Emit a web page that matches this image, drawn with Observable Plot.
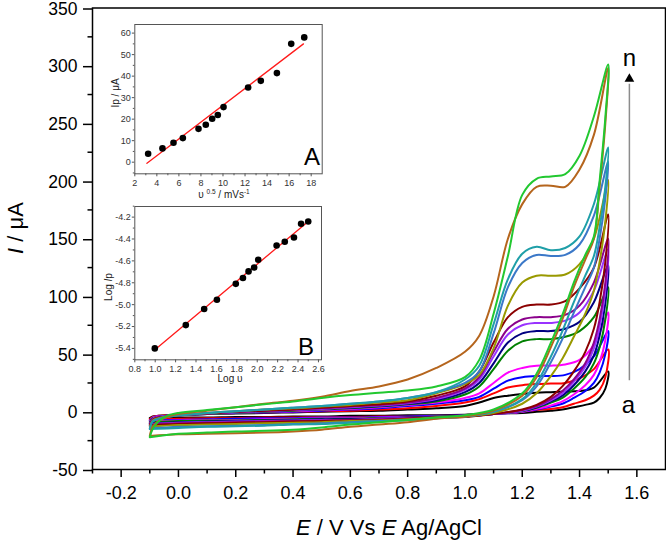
<!DOCTYPE html>
<html><head><meta charset="utf-8">
<script src="https://cdn.jsdelivr.net/npm/d3@7"></script>
<script src="https://cdn.jsdelivr.net/npm/@observablehq/plot@0.6"></script>
<style>
body{margin:0;background:#fff;}
#wrap{position:relative;width:666px;height:541px;font-family:"Liberation Sans",Arial,sans-serif;}
#wrap svg{position:absolute;}
</style></head><body><div id="wrap"></div>
<script>
// ---------- main voltammograms (E / V, I / µA) ----------
const curveIds = ["a","b","c","d","e","f","g","h","i","j","k","l","m","n"];
const curveColors = ["#000000","#ff0000","#0000ff","#ff00ff","#008000","#000080","#9933ff","#8b008b","#8b0000","#999900","#3b78c8","#1f9fa8","#b5651d","#22c830"];
const E_fwd = [-0.1,-0.09,-0.07,-0.04,0.0,0.1,0.2,0.3,0.4,0.5,0.6,0.7,0.8,0.9,1.0,1.05,1.1,1.15,1.2,1.25,1.3,1.35,1.4,1.45,1.5];
const E_rev = [1.49,1.47,1.45,1.42,1.38,1.34,1.3,1.25,1.2,1.1,1.0,0.9,0.8,0.7,0.6,0.5,0.4,0.3,0.2,0.1,0.0,-0.1];

const fwd_a = [-5.5,-4,-3.5,-3,-2.5,-2,-1.5,-1,-0.5,0,0.5,1,2,3,5,8,12,14,15.5,16.5,17,17.5,18,21,35];
const fwd_b = [-6.5,-4.5,-3.5,-3,-2.5,-1.5,-1,-0.5,0,0.5,1,2,3,5,8,11,16,21,23,24,24.5,25,29,37,54];
const fwd_c = [-7.5,-5,-4,-3.5,-3,-2,-1,-0.5,0,1,2,3,5,7,10,13,20,27,30,31,31,32,37,48,70];
const fwd_d = [-8,-5,-4,-3.5,-3,-2,-1,0,0.5,1.5,2.5,4,6,8,12,16,25,34,38,40,40,41,45,58,86];
const fwd_e = [-9,-5.5,-4.5,-3.5,-3,-2,-1,0,1,2,3,4.5,6.5,9,15,22,37,53,61,63,63,65,70,82,108];
const fwd_f = [-10,-6,-4.5,-3.5,-3,-1.5,-0.5,0.5,1.5,2.5,3.5,5,7,10,17,25,42,60,68,70,70,72,78,95,127];
const fwd_g = [-10.5,-6,-4.5,-3.5,-3,-1.5,-0.5,0.5,1.5,2.5,4,5.5,7.5,11,19,28,48,67,75,77,77,79,86,105,141];
const fwd_h = [-11,-6.5,-5,-4,-3,-1.5,0,1,2,3,4.5,6,8,12,20,30,52,72,80,82,82,84,92,112,150];
const fwd_i = [-12,-7,-5,-4,-3,-1.5,0,1,2,3.5,5,6.5,9,14,22,35,60,82,91,93,93,96,107,125,171];
const fwd_j = [-13,-7.5,-5.5,-4,-3,-1,0.5,2,3,4.5,6,8,10,16,24,32,55,92,112,118,118,119,128,150,201];
const fwd_k = [-14.5,-8,-6,-4.5,-3,-1,0.5,2,3.5,5,7,9,12,17,25,35,68,108,129,136,135,136,145,170,217];
const fwd_l = [-15,-8.5,-6,-4.5,-3,-1,0.5,2,3.5,5,7,9,12,17,28,40,76,115,137,143,140,142,152,180,229];
const fwd_m = [-21,-13,-8,-4.5,-2,1,4,7,9.5,13,18,22,28,38,52,66,100,150,180,195,196,195,210,240,298];
const fwd_n = [-22,-15,-8.5,-3.5,-1,1.5,4,6.5,9,12,14.5,16.5,18.5,22,30,45,85,135,188,202,204,206,222,256,301];

const rev_a = [20,12,8,6,4,2,1,0,-1,-1.5,-2.5,-3,-3,-3.5,-3.5,-4,-4,-4.5,-4.5,-5,-5,-5.5];
const rev_b = [30,19,14,10,7,4,2.5,1.5,0,-1.5,-3,-3.5,-4,-4,-4.5,-4.5,-5,-5,-5.5,-5.5,-6,-6.5];
const rev_c = [50,34,25,18,12,7,4.5,2,0,-2,-3,-3.5,-4,-4.5,-5,-5,-5.5,-5.5,-6,-6.5,-7,-7.5];
const rev_d = [62,43,32,23,15,9,5.5,2.5,0,-2,-3.5,-4,-4.5,-5,-5.5,-5.5,-6,-6.5,-7,-7,-7.5,-8];
const rev_e = [80,56,42,30,20,12,8,3.5,0.5,-2,-3.5,-4,-5,-5.5,-6,-6,-6.5,-7,-7.5,-7.5,-8,-9];
const rev_f = [94,66,49,35,23,14,9,4,1,-2,-4,-4.5,-5,-6,-6.5,-6.5,-7,-7.5,-8,-8.5,-9,-10];
const rev_g = [105,74,55,39,26,16,10,4.5,1,-2,-4,-5,-5.5,-6,-7,-7,-7.5,-8,-8.5,-9,-9.5,-10.5];
const rev_h = [112,80,60,42,28,18,11,5,1.5,-2,-4,-5,-5.5,-6.5,-7,-7.5,-8,-8.5,-9,-9.5,-10,-11];
const rev_i = [130,95,72,52,35,22,13,6,2,-2,-4.5,-5,-6,-7,-7.5,-8,-8.5,-9,-9.5,-10,-10.5,-12];
const rev_j = [165,130,105,85,65,46,31,16,7,-1,-4,-5,-6.5,-7.5,-8,-9,-9.5,-10,-10.5,-11,-11.5,-13];
const rev_k = [185,150,125,108,86,63,43,22,10,0,-4,-5.5,-7,-8,-9,-10,-10.5,-11.5,-12,-12.5,-13,-14.5];
const rev_l = [195,160,135,118,95,70,48,25,11,0,-4,-5.5,-7,-8.5,-9.5,-10.5,-11,-12,-12.5,-13,-14,-15];
const rev_m = [250,195,150,132,108,80,56,30,14,1,-4,-6,-9,-11,-13,-15.5,-17,-18,-18.5,-19,-19.5,-21];
const rev_n = [255,200,152,136,112,84,60,33,16,2,-3,-5,-7,-9,-11,-13.5,-15.5,-16.5,-17,-18,-19,-22];

const forwardScans = [fwd_a,fwd_b,fwd_c,fwd_d,fwd_e,fwd_f,fwd_g,fwd_h,fwd_i,fwd_j,fwd_k,fwd_l,fwd_m,fwd_n];
const reverseScans = [rev_a,rev_b,rev_c,rev_d,rev_e,rev_f,rev_g,rev_h,rev_i,rev_j,rev_k,rev_l,rev_m,rev_n];

const xMajor = [-0.2,0.0,0.2,0.4,0.6,0.8,1.0,1.2,1.4,1.6];
const xMinor = [-0.3,-0.1,0.1,0.3,0.5,0.7,0.9,1.1,1.3,1.5];
const yMajor = [-50,0,50,100,150,200,250,300,350];
const yMinor = [-25,25,75,125,175,225,275,325];

// arrow a -> n
const arrowE = [1.574];
const arrowBottom = [27];
const arrowTop = [284];
const arrowHead = [288.5];
const arrowLabels = ["n","a"];
const arrowLabelE = [1.574, 1.571];
const arrowLabelI = [306, 5.5];

// ---------- inset A: Ip vs v^0.5 ----------
const ipX = [3.21,4.51,5.51,6.36,7.78,8.44,9.02,9.53,10.05,12.28,13.43,14.89,16.19,17.37];
const ipY = [3.9,6.4,9.0,11.2,15.5,17.4,20.2,21.9,25.6,34.7,37.8,41.4,55.0,58.0];
const fitAX = [3.1,17.3];
const fitAY = [-0.5,55];
const aXMajor = [2,4,6,8,10,12,14,16,18];
const aXMinor = [3,5,7,9,11,13,15,17];
const aYMajor = [0,10,20,30,40,50,60];
const aYMinor = [-5,5,15,25,35,45,55];

// ---------- inset B: log Ip vs log v ----------
const logV = [0.996,1.30,1.48,1.605,1.79,1.86,1.915,1.97,2.01,2.19,2.27,2.36,2.43,2.50];
const logIp = [-5.40,-5.187,-5.04,-4.955,-4.81,-4.757,-4.696,-4.66,-4.59,-4.459,-4.425,-4.386,-4.261,-4.24];
const fitBX = [1.0,2.5];
const fitBY = [-5.41,-4.24];
const bXMajor = [0.8,1.0,1.2,1.4,1.6,1.8,2.0,2.2,2.4,2.6];
const bXMinor = [0.9,1.1,1.3,1.5,1.7,1.9,2.1,2.3,2.5];
const bYMajor = [-5.4,-5.2,-5.0,-4.8,-4.6,-4.4,-4.2];
const bYMinor = [-5.5,-5.3,-5.1,-4.9,-4.7,-4.5,-4.3,-4.1];

const FONT = "Liberation Sans, Arial, Helvetica, sans-serif";
const wrap = document.getElementById("wrap");

// build rows
const rows = [];
curveIds.forEach((id, k) => {
  forwardScans[k].forEach((v, i) => rows.push({id, E: E_fwd[i], I: v}));
  reverseScans[k].forEach((v, i) => rows.push({id, E: E_rev[i], I: v}));
});
const arrowRows = arrowE.map((e, i) => ({E: e, y1: arrowBottom[i], y2: arrowTop[i], h: arrowHead[i]}));
const labelRows = arrowLabels.map((t, i) => ({t, E: arrowLabelE[i], I: arrowLabelI[i]}));

const main = Plot.plot({
  width: 666, height: 541,
  marginLeft: 92, marginRight: 1, marginTop: 7.5, marginBottom: 72,
  x: {domain: [-0.3, 1.7]},
  y: {domain: [-50, 350]},
  color: {domain: curveIds, range: curveColors},
  style: {fontFamily: FONT, background: "transparent", overflow: "visible"},
  marks: [
    Plot.line(rows, {x: "E", y: "I", z: "id", stroke: "id", strokeWidth: 2, curve: "catmull-rom"}),
    Plot.frame({stroke: "black", strokeWidth: 1.5}),
    Plot.axisX({ticks: xMajor, tickSize: 8, tickPadding: 9, fontSize: 18, strokeWidth: 1.5, tickFormat: d => d.toFixed(1), label: null}),
    Plot.axisX({ticks: xMinor, tickSize: 4.5, strokeWidth: 1.5, tickFormat: () => "", label: null}),
    Plot.axisY({ticks: yMajor, tickSize: 9, tickPadding: 6, fontSize: 17.5, dy: 1, strokeWidth: 1.5, tickFormat: d => String(d), label: null}),
    Plot.axisY({ticks: yMinor, tickSize: 4.5, strokeWidth: 1.5, tickFormat: () => "", label: null}),
    Plot.ruleX(arrowRows, {x: "E", y1: "y1", y2: "y2", stroke: "#8c8c8c", strokeWidth: 1.5}),
    Plot.dot(arrowRows, {x: "E", y: "h", symbol: "triangle", r: 3.6, fill: "black", stroke: "none"}),
    Plot.text(labelRows, {x: "E", y: "I", text: "t", fontSize: 24, fill: "black"})
  ]
});
main.style.left = "0px"; main.style.top = "0px";
wrap.appendChild(main);

const ms = d3.select(main);
const yl = ms.append("text").attr("transform", "translate(23,228) rotate(-90)")
  .attr("text-anchor", "middle").attr("font-size", 22).attr("font-family", FONT).attr("fill", "black");
yl.append("tspan").attr("font-style", "italic").text("I");
yl.append("tspan").text(" / μA");
const xl = ms.append("text").attr("x", 389).attr("y", 535)
  .attr("text-anchor", "middle").attr("font-size", 22).attr("font-family", FONT).attr("fill", "black");
xl.append("tspan").attr("font-style", "italic").text("E");
xl.append("tspan").text(" / V Vs ");
xl.append("tspan").attr("font-style", "italic").text("E");
xl.append("tspan").text(" Ag/AgCl");

// ---------- inset A ----------
const ptsA = ipX.map((x, i) => ({x, y: ipY[i]}));
const lineA = fitAX.map((x, i) => ({x, y: fitAY[i]}));
const insetA = Plot.plot({
  width: 240, height: 194,
  marginLeft: 34.3, marginTop: 16, marginRight: 18.3, marginBottom: 28.7,
  x: {domain: [2, 19]}, y: {domain: [-5.4, 64]},
  style: {fontFamily: FONT, background: "transparent", overflow: "visible"},
  marks: [
    Plot.frame({stroke: "#555", strokeWidth: 1}),
    Plot.axisX({ticks: aXMajor, tickSize: 3, tickPadding: 3, fontSize: 9, fill: "#333", stroke: "#555", tickFormat: d => String(d), label: null}),
    Plot.axisX({ticks: aXMinor, tickSize: 2, stroke: "#555", tickFormat: () => "", label: null}),
    Plot.axisY({ticks: aYMajor, tickSize: 2.5, tickPadding: 1.5, fontSize: 9, fill: "#333", stroke: "#555", tickFormat: d => String(d), label: null}),
    Plot.axisY({ticks: aYMinor, tickSize: 1.5, stroke: "#555", tickFormat: () => "", label: null}),
    Plot.line(lineA, {x: "x", y: "y", stroke: "#ff1a1a", strokeWidth: 1.3}),
    Plot.dot(ptsA, {x: "x", y: "y", r: 3.3, fill: "black", stroke: "none"})
  ]
});
insetA.style.left = "100px"; insetA.style.top = "8px";
wrap.appendChild(insetA);
const as = d3.select(insetA);
const ayl = as.append("text").attr("transform", "translate(19,85) rotate(-90)")
  .attr("text-anchor", "middle").attr("font-size", 10).attr("font-family", FONT).attr("fill", "#222");
ayl.text("Ip / μA");
const axl = as.append("text").attr("x", 124).attr("y", 190)
  .attr("text-anchor", "middle").attr("font-size", 10).attr("font-family", FONT).attr("fill", "#222");
axl.append("tspan").text("υ ");
axl.append("tspan").attr("font-size", 6.5).attr("dy", -4).text("0.5");
axl.append("tspan").attr("dy", 4).text(" / mVs");
axl.append("tspan").attr("font-size", 6.5).attr("dy", -4).text("-1");
as.append("text").attr("x", 220).attr("y", 157).attr("text-anchor", "end")
  .attr("font-size", 24).attr("font-family", FONT).attr("fill", "black").text("A");

// ---------- inset B ----------
const ptsB = logV.map((x, i) => ({x, y: logIp[i]}));
const lineB = fitBX.map((x, i) => ({x, y: fitBY[i]}));
const insetB = Plot.plot({
  width: 240, height: 190,
  marginLeft: 34.3, marginTop: 8, marginRight: 19, marginBottom: 28.7,
  x: {domain: [0.8, 2.63]}, y: {domain: [-5.504, -4.103]},
  style: {fontFamily: FONT, background: "transparent", overflow: "visible"},
  marks: [
    Plot.frame({stroke: "#555", strokeWidth: 1}),
    Plot.axisX({ticks: bXMajor, tickSize: 3, tickPadding: 3, fontSize: 9, fill: "#333", stroke: "#555", tickFormat: d => d.toFixed(1), label: null}),
    Plot.axisX({ticks: bXMinor, tickSize: 2, stroke: "#555", tickFormat: () => "", label: null}),
    Plot.axisY({ticks: bYMajor, tickSize: 2.5, tickPadding: 1.5, fontSize: 9, fill: "#333", stroke: "#555", tickFormat: d => d.toFixed(1), label: null}),
    Plot.axisY({ticks: bYMinor, tickSize: 1.5, stroke: "#555", tickFormat: () => "", label: null}),
    Plot.line(lineB, {x: "x", y: "y", stroke: "#ff1a1a", strokeWidth: 1.3}),
    Plot.dot(ptsB, {x: "x", y: "y", r: 3.3, fill: "black", stroke: "none"})
  ]
});
insetB.style.left = "100px"; insetB.style.top = "198px";
wrap.appendChild(insetB);
const bs = d3.select(insetB);
const byl = bs.append("text").attr("transform", "translate(12,89) rotate(-90)")
  .attr("text-anchor", "middle").attr("font-size", 10).attr("font-family", FONT).attr("fill", "#222");
byl.append("tspan").text("Log ");
byl.append("tspan").attr("font-style", "italic").text("I");
byl.append("tspan").text("p");
bs.append("text").attr("x", 130).attr("y", 184).attr("text-anchor", "middle")
  .attr("font-size", 10).attr("font-family", FONT).attr("fill", "#222").text("Log υ");
bs.append("text").attr("x", 214).attr("y", 157).attr("text-anchor", "end")
  .attr("font-size", 24).attr("font-family", FONT).attr("fill", "black").text("B");
</script></body></html>
